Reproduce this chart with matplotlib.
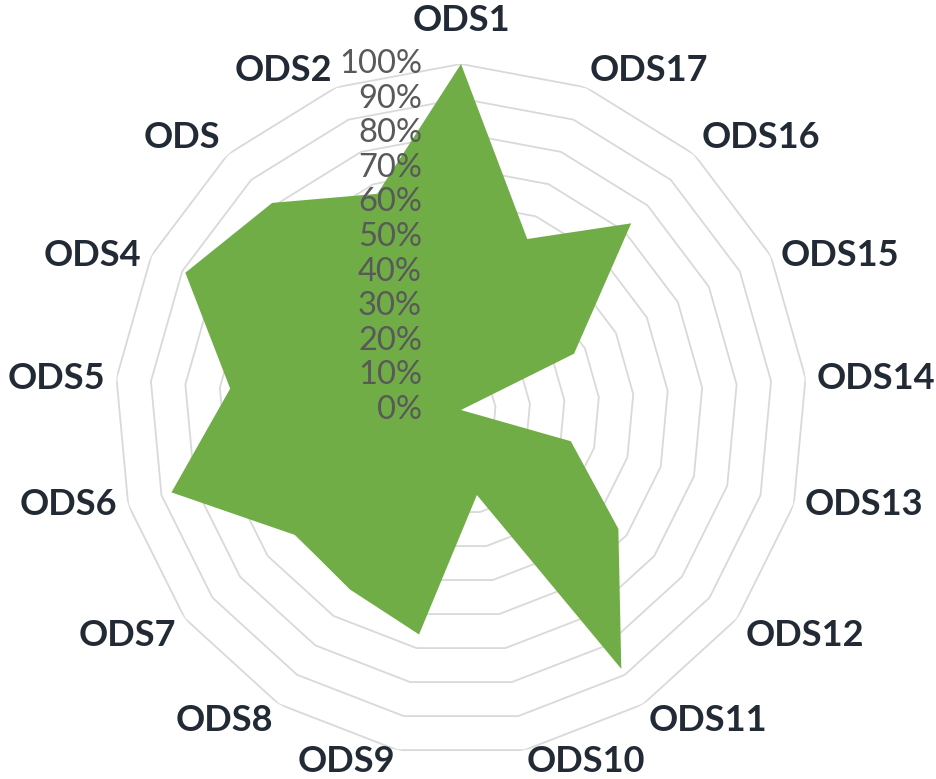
import numpy as np
import matplotlib
matplotlib.use('Agg')
import matplotlib.pyplot as plt

# categories in clockwise order starting from the top
categories = ['ODS1', 'ODS17', 'ODS16', 'ODS15', 'ODS14', 'ODS13', 'ODS12', 'ODS11',
              'ODS10', 'ODS9', 'ODS8', 'ODS7', 'ODS6', 'ODS5', 'ODS4', 'ODS', 'ODS2']
values = [1.00, 0.53, 0.73, 0.365, 0.0, 0.33, 0.57, 0.88,
          0.25, 0.66, 0.61, 0.60, 0.87, 0.67, 0.89, 0.81, 0.67]
levels = [0.0, 0.1, 0.2, 0.3, 0.4, 0.5, 0.6, 0.7, 0.8, 0.9, 1.0]
level_labels = ['0%', '10%', '20%', '30%', '40%', '50%', '60%', '70%', '80%', '90%', '100%']

W, H = 937, 779
fig = plt.figure(figsize=(W / 100, H / 100), dpi=100)
cx, cy, R = 461, 410, 346
ax = fig.add_axes([(cx - R) / W, (H - cy - R) / H, 2 * R / W, 2 * R / H], projection='polar')
ax.set_theta_offset(np.pi / 2)
ax.set_theta_direction(-1)

n = len(categories)
angles = np.linspace(0, 2 * np.pi, n, endpoint=False)
closed = np.append(angles, angles[0])

# polygon gridlines like Excel
for lv in levels[1:]:
    ax.plot(closed, [lv] * (n + 1), color='#d9d9d9', lw=1.3, zorder=1)

vals = np.append(values, values[0])
ax.fill(closed, vals, color='#70AD47', lw=0, zorder=2)

ax.set_ylim(0, 1)
ax.grid(False)
ax.set_xticks([])
ax.set_yticks([])
ax.spines['polar'].set_visible(False)
ax.patch.set_alpha(0)

# radial value labels
for lv, lab in zip(levels, level_labels):
    ax.annotate(lab, xy=(0, lv), xytext=(-39, 0), textcoords='offset pixels',
                ha='right', va='center', fontsize=23.5, color='#595959',
                family='Lato', zorder=3, annotation_clip=False)

# category labels
for a, cat in zip(angles, categories):
    s, c = np.sin(a), np.cos(a)
    ha = 'left' if s > 0.05 else ('right' if s < -0.05 else 'center')
    va = 'bottom' if c > 0.5 else ('top' if c < -0.5 else 'center')
    if abs(s) < 0.05:
        dx, dy = 0, 27
    else:
        dx, dy = 11 * s, 0
    if c < -0.9:
        dy = 5  # keep the bottom labels inside the figure
    ax.annotate(cat, xy=(a, 1.0), xytext=(dx, dy), textcoords='offset pixels',
                ha=ha, va=va, fontsize=26, fontweight='bold', color='#222A35',
                family='Lato', annotation_clip=False)

fig.savefig('out.png', dpi=100)
